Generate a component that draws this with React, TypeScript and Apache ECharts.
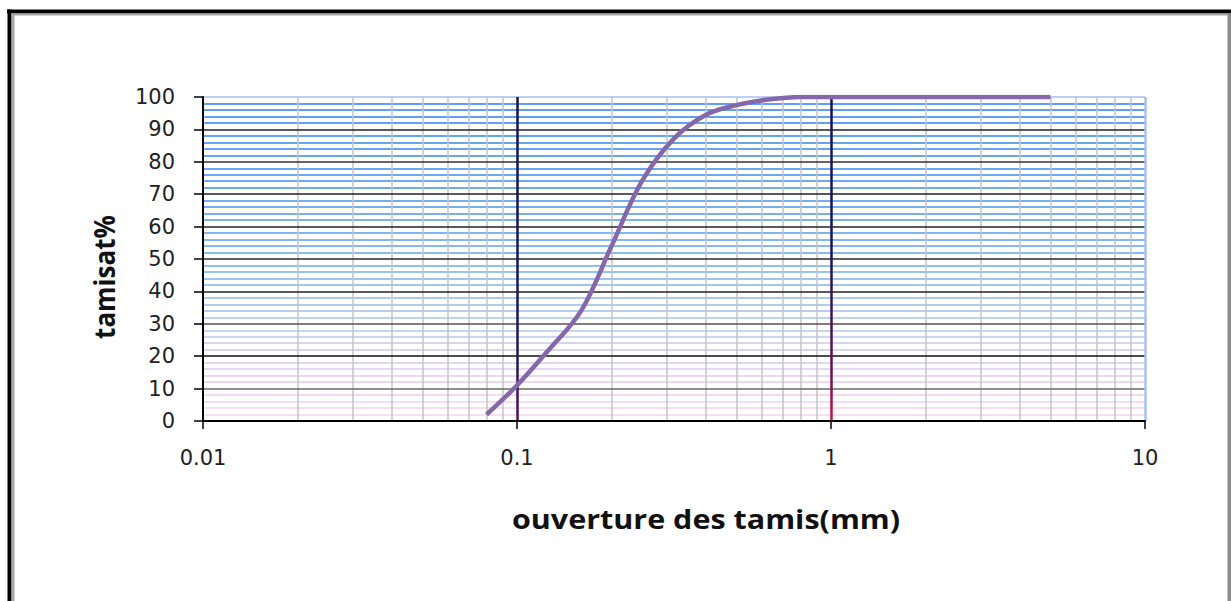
import React, { useEffect, useRef } from "react";
import * as echarts from "echarts";

// Sieve openings (mm) and cumulative passing (%)
const sieveSizes = [0.08, 0.1, 0.125, 0.16, 0.2, 0.25, 0.315, 0.4, 0.5, 0.63, 0.8, 1, 1.25, 1.6, 2, 2.5, 3.15, 4, 5];
const passingPct = [2, 11, 21.5, 34, 54, 74, 87, 94.5, 97.5, 99.2, 100, 100, 100, 100, 100, 100, 100, 100, 100];

// Logarithmic minor grid positions inside each decade
const minorXLines = [
  0.02, 0.03, 0.04, 0.05, 0.06, 0.07, 0.08, 0.09,
  0.2, 0.3, 0.4, 0.5, 0.6, 0.7, 0.8, 0.9,
  2, 3, 4, 5, 6, 7, 8, 9,
];

// Colour of the fine horizontal rules, fading from blue at the top to pink at the bottom
const fineRuleStops: [number, number[]][] = [
  [0, [250, 226, 245]],
  [10, [242, 216, 240]],
  [20, [222, 216, 242]],
  [30, [192, 212, 240]],
  [40, [166, 200, 240]],
  [50, [140, 188, 245]],
  [70, [112, 170, 246]],
  [100, [94, 158, 245]],
];

function fineRuleColor(v: number): string {
  for (let i = 1; i < fineRuleStops.length; i++) {
    const [v0, c0] = fineRuleStops[i - 1];
    const [v1, c1] = fineRuleStops[i];
    if (v <= v1) {
      const t = (v - v0) / (v1 - v0);
      const c = c0.map((a, k) => Math.round(a + (c1[k] - a) * t));
      return `rgb(${c[0]},${c[1]},${c[2]})`;
    }
  }
  return "rgb(94,158,245)";
}

export default function App() {
  const ref = useRef<HTMLDivElement>(null);

  useEffect(() => {
    const chart = echarts.init(ref.current!, null, { renderer: "svg" });

    const gridTop = 97;
    const gridBottomY = 421;

    const fineColors: string[] = [];
    for (let v = 0; v <= 100; v += 2) {
      fineColors.push(v % 10 === 0 ? "rgba(0,0,0,0)" : fineRuleColor(v));
    }

    const majorColors = [
      "#000", "#6a6a6a", "#111", "#555", "#222", "#2a2a2a",
      "#222", "#222", "#333", "#222", "#a3c0ee",
    ];

    const decadeGradient = (bottom: string, mid: string, midAt: number) => ({
      type: "linear",
      x: 0,
      y: gridTop,
      x2: 0,
      y2: gridBottomY,
      global: true,
      colorStops: [
        { offset: 0, color: "#141458" },
        { offset: midAt, color: "#1a1658" },
        { offset: 0.85, color: mid },
        { offset: 1, color: bottom },
      ],
    });

    const option: any = {
      animation: false,
      backgroundColor: "#fff",
      grid: { left: 203, right: 86, top: gridTop, bottom: 601 - gridBottomY, containLabel: false },
      xAxis: {
        type: "log",
        logBase: 10,
        min: 0.01,
        max: 10,
        z: 3,
        axisLine: { show: true, lineStyle: { color: "#000", width: 2 } },
        axisTick: { show: true, length: 8, lineStyle: { color: "#000", width: 1.5 } },
        axisLabel: {
          margin: 26,
          fontSize: 21,
          fontFamily: "DejaVu Sans",
          color: "#222",
          formatter: (v: number) => String(parseFloat(v.toPrecision(6))),
        },
        splitLine: {
          show: true,
          lineStyle: {
            width: 2.5,
            color: [
              "rgba(0,0,0,0)",
              decadeGradient("#5a1048", "#2a1458", 0.6),
              decadeGradient("#d0103a", "#6a1050", 0.5),
              "#a8c2ec",
            ],
          },
        },
        minorTick: { show: false },
      },
      yAxis: [
        {
          type: "value",
          min: 0,
          max: 100,
          interval: 10,
          z: 2,
          axisLine: { show: true, lineStyle: { color: "#000", width: 2 } },
          axisTick: { show: true, length: 9, lineStyle: { color: "#000", width: 1.5 } },
          axisLabel: {
            margin: 28,
            fontSize: 21,
            fontFamily: "DejaVu Sans",
            color: "#222",
          },
          splitLine: { show: true, lineStyle: { width: 1.5, color: majorColors } },
        },
        {
          type: "value",
          min: 0,
          max: 100,
          interval: 2,
          position: "left",
          z: 0,
          axisLine: { show: false },
          axisTick: { show: false },
          axisLabel: { show: false },
          splitLine: { show: true, lineStyle: { width: 2, color: fineColors } },
        },
      ],
      series: [
        {
          type: "line",
          xAxisIndex: 0,
          yAxisIndex: 0,
          data: [],
          z: 1,
          silent: true,
          markLine: {
            z: 1,
            silent: true,
            symbol: ["none", "none"],
            label: { show: false },
            emphasis: { disabled: true },
            lineStyle: { color: "#c4c4c4", width: 1.5, type: "solid" },
            data: minorXLines.map((x) => ({ xAxis: x })),
          },
        },
        {
          type: "line",
          name: "tamisat",
          xAxisIndex: 0,
          yAxisIndex: 0,
          z: 5,
          data: sieveSizes.map((s, i) => [s, passingPct[i]]),
          smooth: 0.35,
          showSymbol: false,
          symbol: "none",
          lineStyle: { color: "#8468aa", width: 4.5 },
        },
      ],
      graphic: [
        { type: "rect", silent: true, shape: { x: 7, y: 9.5, width: 1224, height: 4 }, style: { fill: "#000" } },
        { type: "rect", silent: true, shape: { x: 7.5, y: 9.5, width: 4, height: 592 }, style: { fill: "#000" } },
        { type: "rect", silent: true, shape: { x: 11.5, y: 13.5, width: 3, height: 590 }, style: { fill: "#a6a6a6" } },
        { type: "rect", silent: true, shape: { x: 11.5, y: 13.5, width: 1216, height: 2 }, style: { fill: "#a6a6a6" } },
        { type: "rect", silent: true, shape: { x: 1227.5, y: 13.5, width: 3.5, height: 590 }, style: { fill: "#8a8a8a" } },
        {
          type: "text",
          silent: true,
          x: 706,
          y: 518,
          scaleX: 1.13,
          style: {
            text: "ouverture des tamis(mm)",
            font: 'bold 27px "Open Sans"',
            fill: "#111",
            align: "center",
            verticalAlign: "middle",
          },
        },
        {
          type: "text",
          silent: true,
          x: 104,
          y: 277,
          rotation: Math.PI / 2,
          scaleY: 1.1,
          style: {
            text: "tamisat%",
            font: 'bold 26px "Open Sans"',
            fill: "#111",
            align: "center",
            verticalAlign: "middle",
          },
        },
      ],
    };

    chart.setOption(option);
    return () => chart.dispose();
  }, []);

  return (
    <div
      ref={ref}
      style={{ position: "absolute", left: 0, top: 0, width: 1231, height: 601, background: "#fff" }}
    />
  );
}
